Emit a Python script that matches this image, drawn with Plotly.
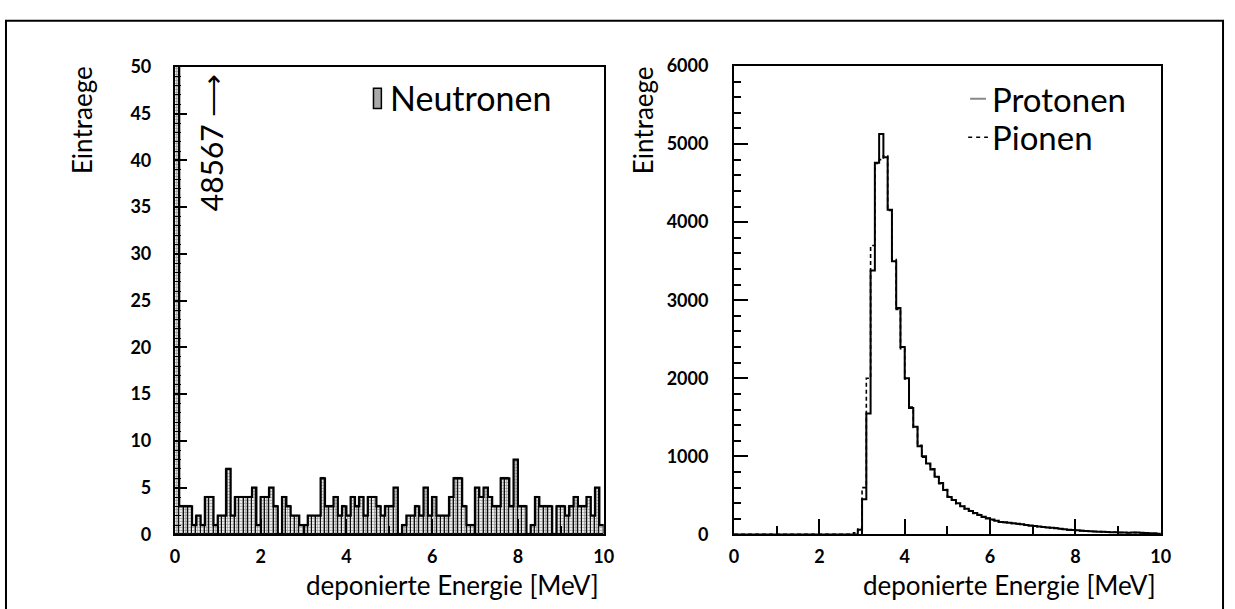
import numpy as np
import plotly.graph_objects as go

W, H = 1235, 609

# ---- data ----
energy_bins = [round(i * 0.1, 1) for i in range(100)]  # bin start [MeV]

neutron_counts = [48567, 3, 3, 3, 1, 2, 1, 4, 4, 1,
                  2, 2, 7, 2, 4, 4, 4, 4, 5, 1,
                  4, 4, 5, 3, 0, 4, 3, 2, 2, 1,
                  1, 2, 2, 2, 6, 3, 3, 4, 2, 3,
                  2, 4, 3, 4, 2, 4, 4, 3, 2, 3,
                  3, 5, 0, 1, 2, 2, 3, 2, 5, 2,
                  4, 2, 2, 2, 4, 6, 6, 3, 1, 1,
                  5, 4, 5, 4, 3, 3, 6, 6, 3, 8,
                  3, 3, 0, 1, 4, 3, 3, 3, 0, 3,
                  3, 2, 3, 4, 3, 3, 4, 2, 5, 1]

proton_counts = [0] * 29 + [
    60, 450, 1550, 3380, 4760, 5130, 4830, 4160, 3500, 2900, 2400,
    2000, 1620, 1380, 1130, 1000, 910, 830, 740, 660, 570,
    480, 440, 400, 360, 330, 300, 275, 250, 225, 205,
    190, 175, 160, 155, 148, 142, 138, 130, 122, 115,
    108, 102, 96, 90, 86, 80, 72, 65, 60, 56,
    52, 48, 45, 42, 38, 35, 33, 30, 28, 27,
    25, 24, 23, 25, 24, 20, 17, 14, 12, 10]

pion_counts = [0] * 28 + [
    20, 80, 600, 2000, 3700, 4750, 4800, 4850, 4150, 3520, 2880, 2380,
    1990, 1630, 1370, 1140, 990, 900, 840, 735, 650, 575,
    485, 445, 395, 365, 325, 305, 270, 255, 220, 210,
    185, 178, 158, 152, 150, 140, 135, 128, 124, 112,
    110, 100, 98, 88, 84, 82, 70, 67, 58, 55,
    50, 49, 44, 43, 37, 36, 32, 31, 27, 28,
    24, 25, 22, 24, 23, 18, 18, 13, 13, 9]

left_yticks = [0, 5, 10, 15, 20, 25, 30, 35, 40, 45, 50]
right_yticks = [0, 1000, 2000, 3000, 4000, 5000, 6000]
xticks = [0, 2, 4, 6, 8, 10]

FONT = "Lato"
BIN_W = 0.1


def px_x(p):
    return p / W


def px_y(p):
    return 1 - p / H


step_x = energy_bins + [10.0]

fig = go.Figure()

# ---- left: neutrons ----
fig.add_trace(go.Bar(
    x=energy_bins, y=neutron_counts, width=BIN_W, offset=0,
    marker=dict(color="#eeeeee", line=dict(color="black", width=1),
                pattern=dict(shape="+", fgcolor="#333", size=3, solidity=0.4)),
    xaxis="x", yaxis="y", showlegend=False, cliponaxis=True))
fig.add_trace(go.Scatter(
    x=step_x, y=neutron_counts + [neutron_counts[-1]], mode="lines",
    line=dict(color="black", width=2.2, shape="hv"),
    xaxis="x", yaxis="y", showlegend=False))

# ---- right: protons / pions ----
fig.add_trace(go.Scatter(
    x=step_x, y=pion_counts + [pion_counts[-1]], mode="lines",
    line=dict(color="black", width=1.6, shape="hv", dash="4px,3px"),
    xaxis="x2", yaxis="y2", showlegend=False))
fig.add_trace(go.Scatter(
    x=step_x, y=proton_counts + [proton_counts[-1]], mode="lines",
    line=dict(color="black", width=2, shape="hv"),
    xaxis="x2", yaxis="y2", showlegend=False))

axis_common = dict(showline=True, linecolor="black", linewidth=2, mirror=True,
                   ticks="inside", tickcolor="black", tickwidth=2,
                   showgrid=False, zeroline=False,
                   tickfont=dict(family=FONT, size=18, color="black", weight="bold"))

fig.update_layout(
    width=W, height=H,
    margin=dict(l=0, r=0, t=0, b=0),
    paper_bgcolor="white", plot_bgcolor="white",
    bargap=0,
    xaxis=dict(domain=[px_x(172), px_x(606)], range=[0, 10], tickvals=xticks,
               ticklen=15, minor=dict(dtick=1, ticklen=8, ticks="inside",
                                      tickcolor="black", tickwidth=1.5),
               anchor="y", ticklabelstandoff=5, **axis_common),
    yaxis=dict(domain=[px_y(542), px_y(57)], range=[0, 50], tickvals=left_yticks,
               ticklen=12, minor=dict(dtick=1, ticklen=6, ticks="inside",
                                      tickcolor="black", tickwidth=1.2),
               anchor="x", ticklabelstandoff=18, **axis_common),
    xaxis2=dict(domain=[px_x(738), px_x(1170)], range=[0, 10], tickvals=xticks,
                ticklen=15, minor=dict(dtick=1, ticklen=8, ticks="inside",
                                       tickcolor="black", tickwidth=1.5),
                anchor="y2", ticklabelstandoff=5, **axis_common),
    yaxis2=dict(domain=[px_y(542), px_y(56)], range=[0, 6000], tickvals=right_yticks,
                ticklen=14, minor=dict(dtick=200, ticklen=7, ticks="inside",
                                       tickcolor="black", tickwidth=1.5),
                anchor="x2", ticklabelstandoff=20, **axis_common),
)

ann = []
title_font = dict(family=FONT, size=26, color="black")
# axis titles
ann.append(dict(text="deponierte Energie [MeV]", xref="paper", yref="paper",
                x=px_x(603), y=px_y(594), xanchor="right", yanchor="middle",
                showarrow=False, font=title_font))
ann.append(dict(text="deponierte Energie [MeV]", xref="paper", yref="paper",
                x=px_x(1167), y=px_y(594), xanchor="right", yanchor="middle",
                showarrow=False, font=title_font))
ann.append(dict(text="Eintraege", xref="paper", yref="paper",
                x=px_x(78), y=px_y(54), xanchor="center", yanchor="top",
                textangle=-90, showarrow=False, font=title_font))
ann.append(dict(text="Eintraege", xref="paper", yref="paper",
                x=px_x(646), y=px_y(54), xanchor="center", yanchor="top",
                textangle=-90, showarrow=False, font=title_font))
# overflow label
ann.append(dict(text="48567 ⟶", xref="x", yref="y", x=0.83, y=42,
                textangle=-90, showarrow=False,
                font=dict(family=FONT, size=30, color="black")))
# legends
ann.append(dict(text="Neutronen", xref="paper", yref="paper",
                x=px_x(388), y=px_y(89), xanchor="left", yanchor="middle",
                showarrow=False, font=dict(family=FONT, size=34, color="black")))
ann.append(dict(text="Protonen", xref="paper", yref="paper",
                x=px_x(997), y=px_y(90), xanchor="left", yanchor="middle",
                showarrow=False, font=dict(family=FONT, size=33, color="black")))
ann.append(dict(text="Pionen", xref="paper", yref="paper",
                x=px_x(997), y=px_y(130), xanchor="left", yanchor="middle",
                showarrow=False, font=dict(family=FONT, size=33, color="black")))
fig.update_layout(annotations=ann)

shapes = []
# outer frame
shapes.append(dict(type="rect", xref="paper", yref="paper",
                   x0=px_x(1), x1=px_x(1233), y0=-0.05, y1=px_y(9),
                   line=dict(color="black", width=2)))
# legend icons
shapes.append(dict(type="rect", xref="paper", yref="paper",
                   x0=px_x(373), x1=px_x(381), y0=px_y(100), y1=px_y(79),
                   line=dict(color="black", width=1.5), fillcolor="#aaaaaa"))
shapes.append(dict(type="line", xref="paper", yref="paper",
                   x0=px_x(977), x1=px_x(993), y0=px_y(90), y1=px_y(90),
                   line=dict(color="#888888", width=2)))
shapes.append(dict(type="line", xref="paper", yref="paper",
                   x0=px_x(975), x1=px_x(995), y0=px_y(130), y1=px_y(130),
                   line=dict(color="black", width=1.5, dash="4px,4px")))
fig.update_layout(shapes=shapes)

fig.write_html(
    "out.html",
    post_script="document.body.style.margin='0';",
)
